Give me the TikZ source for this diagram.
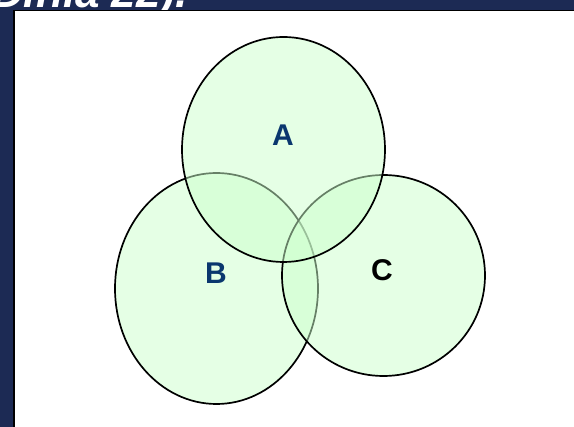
\documentclass[tikz,border=0pt]{standalone}
\usepackage{fontspec}
\setmainfont{Liberation Sans}
\definecolor{navybg}{RGB}{28,42,84}
\definecolor{vennfill}{RGB}{205,255,205}
\definecolor{labelblue}{RGB}{10,55,110}
\begin{document}
\begin{tikzpicture}[x=1pt,y=-1pt,
  venn/.style={fill=vennfill,fill opacity=0.5,draw=black,line width=1.7pt},
  lbl/.style={font=\bfseries\fontsize{30}{30}\selectfont,inner sep=0pt}]
\useasboundingbox (0,0) rectangle (574,427);
\fill[navybg] (0,0) rectangle (574,427);
\begin{scope}
\clip (0,0) rectangle (574,10);
\node[anchor=base west,text=white,inner sep=0pt,font=\bfseries\itshape\fontsize{44}{44}\selectfont] (title) at (-8,8) {Dinia 22).};
\end{scope}
\fill[white] (14,10) rectangle (574,427);
\draw[black,line width=1.2pt] (14,427) -- (14,10.5) -- (574,10.5);
\draw[venn] (216.5,288.5) ellipse [x radius=101.5, y radius=115.5];
\draw[venn] (383.5,275.5) ellipse [x radius=101.5, y radius=100.5];
\draw[venn] (283.5,149.5) ellipse [x radius=101.5, y radius=112.5];
\node[lbl,text=labelblue] (A) at (283,135) {A};
\node[lbl,text=labelblue] (B) at (216,273.5) {B};
\node[lbl,text=black] (C) at (382,270) {C};
\end{tikzpicture}
\end{document}
